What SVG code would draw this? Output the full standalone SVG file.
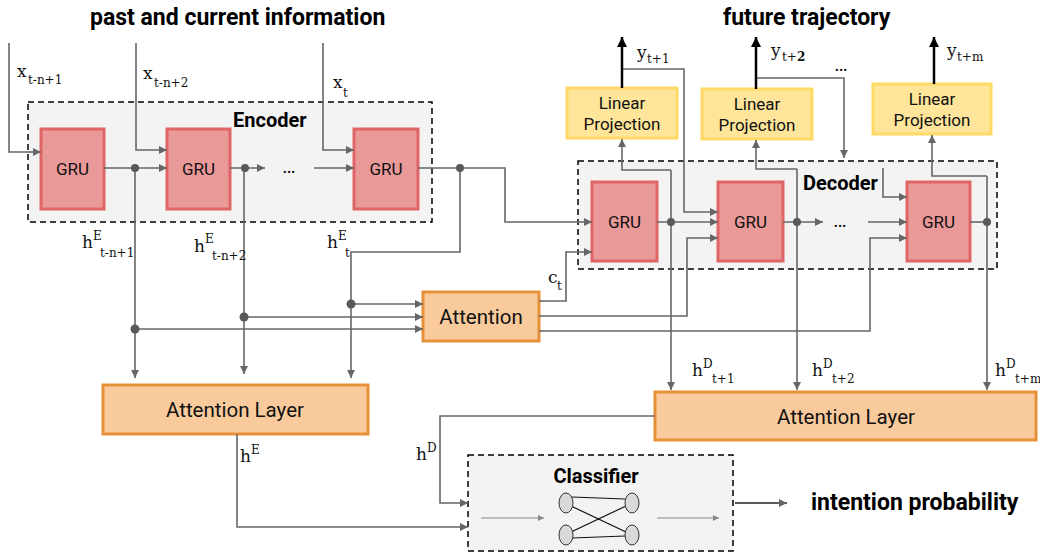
<svg xmlns="http://www.w3.org/2000/svg" width="1040" height="554" viewBox="0 0 1040 554">
<defs>
<marker id="ar" viewBox="0 0 10 10" refX="10" refY="5" markerWidth="10" markerHeight="8" markerUnits="userSpaceOnUse" orient="auto"><path d="M0,0 L10,5 L0,10 z" fill="#666"/></marker>
<marker id="ab" viewBox="0 0 10 10" refX="10" refY="5" markerWidth="12" markerHeight="10" markerUnits="userSpaceOnUse" orient="auto"><path d="M0,0 L10,5 L0,10 z" fill="#000"/></marker>
<marker id="as" viewBox="0 0 10 10" refX="10" refY="5" markerWidth="8" markerHeight="6" markerUnits="userSpaceOnUse" orient="auto"><path d="M0,0 L10,5 L0,10 z" fill="#888"/></marker>
</defs>
<style>
.dash{fill:#f3f3f3;stroke:#000;stroke-width:1.5;stroke-dasharray:6,4}
.gru{fill:#ea9999;stroke:#e06666;stroke-width:3}
.lp{fill:#ffe599;stroke:#ffd966;stroke-width:3}
.att{fill:#f9cb9c;stroke:#e69138;stroke-width:3}
.c{fill:none;stroke:#666;stroke-width:1.6;marker-end:url(#ar)}
.n{fill:none;stroke:#666;stroke-width:1.6}
.k{fill:none;stroke:#000;stroke-width:2.5;marker-end:url(#ab)}
.dot{fill:#595959}
.t{font-family:Roboto,"Liberation Sans",sans-serif;fill:#111;text-anchor:middle}
.b{font-family:Roboto,"Liberation Sans",sans-serif;font-weight:bold;fill:#000}
.m{font-family:"DejaVu Serif","Liberation Serif",serif;fill:#111;font-size:17px}
.s{font-family:"DejaVu Serif","Liberation Serif",serif;fill:#111;font-size:12px}
</style>
<g id="titles">
<text class="b" x="90" y="25" font-size="23">past and current information</text>
<text class="b" x="723" y="25" font-size="23">future trajectory</text>
<text class="b" x="811" y="510" font-size="23">intention probability</text>
</g>
<g id="encoder"><rect class="dash" x="28" y="102" width="404" height="120"/><text class="b" x="233" y="127" font-size="20">Encoder</text></g>
<g id="decoder"><rect class="dash" x="578" y="161" width="419" height="108"/><text class="b" x="803" y="190" font-size="20">Decoder</text></g>
<g id="classifier"><rect class="dash" x="468" y="455" width="265" height="96"/><text class="b" x="596" y="483" font-size="20" text-anchor="middle">Classifier</text>
<g fill="none" stroke="#111" stroke-width="1.2"><line x1="572" y1="497" x2="625" y2="499"/><line x1="571" y1="506" x2="626" y2="532"/><line x1="571" y1="532" x2="626" y2="506"/><line x1="572" y1="538" x2="625" y2="536"/></g>
<g fill="#d9d9d9" stroke="#333" stroke-width="1"><ellipse cx="566" cy="503" rx="7" ry="10"/><ellipse cx="566" cy="535" rx="7" ry="10"/><ellipse cx="632" cy="503" rx="7" ry="10"/><ellipse cx="632" cy="535" rx="7" ry="10"/></g>
<line x1="481" y1="518" x2="544" y2="518" stroke="#888" stroke-width="1" marker-end="url(#as)"/>
<line x1="657" y1="518" x2="719" y2="518" stroke="#888" stroke-width="1" marker-end="url(#as)"/>
</g>
<g id="gru-e1"><rect class="gru" x="41" y="129" width="63" height="80"/><text class="t" x="72.5" y="175" font-size="17">GRU</text></g>
<g id="gru-e2"><rect class="gru" x="167" y="129" width="63" height="80"/><text class="t" x="198.5" y="175" font-size="17">GRU</text></g>
<g id="gru-e3"><rect class="gru" x="354" y="129" width="64" height="80"/><text class="t" x="386" y="175" font-size="17">GRU</text></g>
<g id="gru-d1"><rect class="gru" x="592" y="182" width="65" height="79"/><text class="t" x="624.5" y="228" font-size="17">GRU</text></g>
<g id="gru-d2"><rect class="gru" x="718" y="182" width="65" height="79"/><text class="t" x="750.5" y="228" font-size="17">GRU</text></g>
<g id="gru-d3"><rect class="gru" x="907" y="182" width="63" height="79"/><text class="t" x="938.5" y="228" font-size="17">GRU</text></g>
<g id="lp1"><rect class="lp" x="567" y="88" width="110" height="50"/><text class="t" x="622" y="109" font-size="17">Linear</text><text class="t" x="622" y="130" font-size="17">Projection</text></g>
<g id="lp2"><rect class="lp" x="702" y="89" width="110" height="50"/><text class="t" x="757" y="110" font-size="17">Linear</text><text class="t" x="757" y="131" font-size="17">Projection</text></g>
<g id="lp3"><rect class="lp" x="873" y="84" width="118" height="50"/><text class="t" x="932" y="105" font-size="17">Linear</text><text class="t" x="932" y="126" font-size="17">Projection</text></g>
<g id="attention"><rect class="att" x="423" y="292" width="116" height="49"/><text class="t" x="481" y="324" font-size="20.5">Attention</text></g>
<g id="attlayer-e"><rect class="att" x="103" y="385" width="265" height="49"/><text class="t" x="235" y="417" font-size="20.5">Attention Layer</text></g>
<g id="attlayer-d"><rect class="att" x="655" y="392" width="381" height="48"/><text class="t" x="846" y="424" font-size="20.5">Attention Layer</text></g>
<g id="connectors">
<path class="c" d="M9,43 V152 H41"/>
<path class="c" d="M136,43 V150 H167"/>
<path class="c" d="M323,43 V150 H354"/>
<path class="c" d="M104,168 H167"/>
<path class="c" d="M230,168 H265"/>
<path class="c" d="M314,168 H354"/>
<path class="c" d="M418,168 H505 V222 H592"/>
<path class="c" d="M135,168 V378"/>
<path class="c" d="M244,168 V374"/>
<path class="c" d="M460,168 V252 H351 V378"/>
<path class="c" d="M351,304 H423"/>
<path class="c" d="M244,317 H423"/>
<path class="c" d="M135,329 H423"/>
<path class="c" d="M539,301 H566 V252 H592"/>
<path class="c" d="M539,316 H687 V238 H718"/>
<path class="c" d="M539,331 H870 V238 H907"/>
<path class="c" d="M657,222 H718"/>
<path class="c" d="M783,222 H823"/>
<path class="c" d="M868,222 H907"/>
<path class="n" d="M970,222 H987"/>
<path class="c" d="M671,170 V390"/>
<path class="c" d="M671,170 H622 V139"/>
<path class="c" d="M797,169 V390"/>
<path class="c" d="M797,169 H756 V140"/>
<path class="c" d="M987,176 V390"/>
<path class="c" d="M987,176 H932 V135"/>
<path class="c" d="M622,69 H684 V212 H718"/>
<path class="c" d="M756,78 H844 V158"/>
<path class="c" d="M883,168 V197 H907"/>
<path class="k" d="M622,88 V37"/>
<path class="k" d="M756,89 V37"/>
<path class="k" d="M934,84 V37"/>
<path class="c" d="M655,416 H440 V503 H468"/>
<path class="c" d="M237,434 V527 H468"/>
<path fill="none" stroke="#595959" stroke-width="2.2" marker-end="url(#ar)" d="M735,503 H787"/>
<g class="dot"><circle cx="135" cy="168" r="4"/><circle cx="245" cy="168" r="4"/><circle cx="460" cy="168" r="4"/><circle cx="351" cy="304" r="4.5"/><circle cx="244" cy="317" r="4.5"/><circle cx="135" cy="329" r="4.5"/><circle cx="671" cy="222" r="4"/><circle cx="797" cy="222" r="4"/><circle cx="987" cy="222" r="4"/></g>
</g>
<g id="ellipses" class="t" font-size="20"><text x="289" y="173">…</text><text x="841" y="71">…</text><text x="840" y="227">…</text></g>
<g id="labels">
<text class="m" x="17" y="77">x</text><text class="s" x="28" y="84">t-n+1</text>
<text class="m" x="143" y="79">x</text><text class="s" x="154" y="87">t-n+2</text>
<text class="m" x="333" y="88">x</text><text class="s" x="343" y="97">t</text>
<text class="m" x="82" y="248">h</text><text class="s" x="93" y="240">E</text><text class="s" x="100" y="257">t-n+1</text>
<text class="m" x="194" y="252">h</text><text class="s" x="205" y="243">E</text><text class="s" x="212" y="260">t-n+2</text>
<text class="m" x="327" y="248">h</text><text class="s" x="338" y="240">E</text><text class="s" x="345" y="257">t</text>
<text class="m" x="637" y="58">y</text><text class="s" x="647" y="63">t+1</text>
<text class="m" x="771" y="56">y</text><text class="s" x="782" y="61">t+<tspan font-weight="bold">2</tspan></text>
<text class="m" x="947" y="56">y</text><text class="s" x="957" y="61">t+m</text>
<text class="m" x="548" y="283">c</text><text class="s" x="557" y="290">t</text>
<text class="m" x="692" y="376">h</text><text class="s" x="703" y="368">D</text><text class="s" x="712" y="383">t+1</text>
<text class="m" x="812" y="376">h</text><text class="s" x="823" y="368">D</text><text class="s" x="832" y="383">t+2</text>
<text class="m" x="995" y="376">h</text><text class="s" x="1006" y="368">D</text><text class="s" x="1015" y="383">t+m</text>
<text class="m" x="240" y="462">h</text><text class="s" x="251" y="454">E</text>
<text class="m" x="416" y="460">h</text><text class="s" x="427" y="452">D</text>
</g>
</svg>
